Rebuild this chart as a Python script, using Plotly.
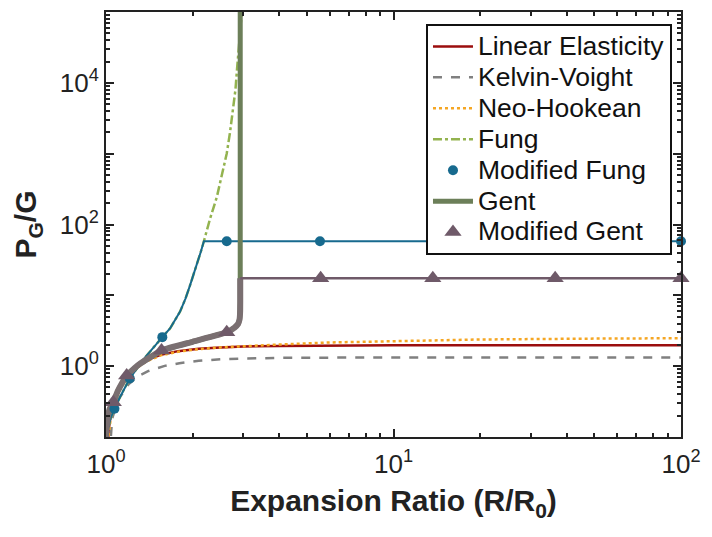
import plotly.graph_objects as go

# ---------------- data ----------------
lin_x = [1.0, 1.02, 1.05, 1.1, 1.15, 1.25, 1.37, 1.55, 1.78, 2.1, 2.5, 3.0, 4.0, 6.0, 10, 20, 50, 100]
lin_y = [0.01, 0.12, 0.28, 0.47, 0.63, 0.92, 1.2, 1.45, 1.63, 1.76, 1.84, 1.9, 1.93, 1.96, 1.97, 1.98, 1.98, 1.98]

kv_x = [1.0, 1.05, 1.1, 1.2, 1.3, 1.4, 1.6, 1.8, 2.1, 2.5, 3.0, 4.0, 6.0, 10, 30, 100]
kv_y = [0.01, 0.18, 0.33, 0.56, 0.73, 0.85, 1.01, 1.1, 1.19, 1.25, 1.28, 1.31, 1.32, 1.33, 1.33, 1.33]

nh_x = [1.0, 1.02, 1.05, 1.1, 1.15, 1.25, 1.37, 1.55, 1.78, 2.1, 2.5, 3.0, 4.0, 6.0, 10, 20, 50, 100]
nh_y = [0.01, 0.1, 0.26, 0.45, 0.6, 0.88, 1.15, 1.42, 1.6, 1.74, 1.84, 1.92, 2.02, 2.16, 2.27, 2.38, 2.45, 2.48]

fung_x = [1.0, 1.02, 1.04, 1.07, 1.12, 1.21, 1.35, 1.57, 1.67, 1.81, 1.89, 1.96, 2.03, 2.09, 2.14, 2.19,
          2.3, 2.43, 2.53, 2.63, 2.7, 2.77, 2.82, 2.86, 2.9, 2.92, 2.96, 3.0]
fung_y = [0.1, 0.14, 0.19, 0.25, 0.37, 0.67, 1.25, 2.57, 3.4, 5.9, 9.0, 13.8, 21.0, 31.0, 42.0, 58,
          120, 245, 500, 1005, 2000, 4110, 8000, 16800, 35000, 55600, 90000, 130000]

mfung_x = [1.0, 1.02, 1.04, 1.07, 1.12, 1.21, 1.35, 1.57, 1.67, 1.81, 1.89, 1.96, 2.03, 2.09, 2.14, 2.19, 100]
mfung_y = [0.1, 0.14, 0.19, 0.25, 0.37, 0.67, 1.25, 2.57, 3.4, 5.9, 9.0, 13.8, 21.0, 31.0, 42.0, 58, 58]
mfung_mx = [1.07, 1.21, 1.57, 2.63, 5.55, 13.7, 36.5, 100]
mfung_my = [0.25, 0.67, 2.57, 58, 58, 58, 58, 58]

gent_x = [1.0, 1.01, 1.03, 1.06, 1.1, 1.18, 1.3, 1.56, 2.0, 2.63, 2.8, 2.88, 2.915, 2.928, 2.93, 2.93, 2.93]
gent_y = [0.1, 0.17, 0.25, 0.31, 0.45, 0.74, 1.05, 1.67, 2.21, 3.0, 3.5, 3.95, 4.6, 6.0, 8.0, 17.4, 300000]

mgent_x = [1.0, 1.01, 1.03, 1.06, 1.1, 1.18, 1.3, 1.56, 2.0, 2.63, 2.8, 2.88, 2.915, 2.928, 2.93, 2.93]
mgent_y = [0.1, 0.17, 0.25, 0.31, 0.45, 0.74, 1.05, 1.67, 2.21, 3.0, 3.5, 3.95, 4.6, 6.0, 8.0, 17.4]
mgent_hx = [2.93, 100]
mgent_hy = [17.4, 17.4]
mgent_mx = [1.06, 1.18, 1.56, 2.63, 5.58, 13.7, 36.5, 100]
mgent_my = [0.31, 0.74, 1.67, 3.0, 17.4, 17.4, 17.4, 17.4]

series_names = ["Linear Elasticity", "Kelvin-Voight", "Neo-Hookean", "Fung",
                "Modified Fung", "Gent", "Modified Gent"]

x_tickvals = [1, 10, 100]
x_ticktext = ["10<sup>0</sup>", "10<sup>1</sup>", "10<sup>2</sup>"]
x_minor = [2, 3, 4, 5, 6, 7, 8, 9, 20, 30, 40, 50, 60, 70, 80, 90]
y_tickvals = [0.1, 1, 10, 100, 1000, 10000, 100000]
y_ticktext = ["", "10<sup>0</sup>", "", "10<sup>2</sup>", "", "10<sup>4</sup>", ""]
y_minor = [m * 10 ** e for e in range(-1, 5) for m in range(2, 10)]

# ---------------- colours / styles ----------------
C_LIN = "#9b0d0d"
C_KV = "#808080"
C_NH = "#f5a623"
C_FUNG = "#93b34f"
C_MFUNG = "#176a8e"
C_GENT = "#6c7f59"
C_MGENT_THICK = "#7a6f71"
C_MGENT = "#6f5a69"


def lname(s):
    return '<span style="font-size:26.5px">' + s + '</span>'


fig = go.Figure()
fig.add_trace(go.Scatter(x=lin_x, y=lin_y, mode="lines", name=lname(series_names[0]),
                         line=dict(color=C_LIN, width=2.5), legendrank=1))
fig.add_trace(go.Scatter(x=kv_x, y=kv_y, mode="lines", name=lname(series_names[1]),
                         line=dict(color=C_KV, width=2.5, dash="dash"), legendrank=2))
fig.add_trace(go.Scatter(x=nh_x, y=nh_y, mode="lines", name=lname(series_names[2]),
                         line=dict(color=C_NH, width=2.5, dash="dot"), legendrank=3))
fig.add_trace(go.Scatter(x=fung_x, y=fung_y, mode="lines", name=lname(series_names[3]),
                         line=dict(color=C_FUNG, width=2.5, dash="dashdot"), legendrank=4))
fig.add_trace(go.Scatter(x=mfung_x, y=mfung_y, mode="lines", showlegend=False,
                         line=dict(color=C_MFUNG, width=2), hoverinfo="skip"))
fig.add_trace(go.Scatter(x=gent_x, y=gent_y, mode="lines", name=lname(series_names[5]),
                         line=dict(color=C_GENT, width=5), legendrank=6))
fig.add_trace(go.Scatter(x=mgent_x, y=mgent_y, mode="lines", showlegend=False,
                         line=dict(color=C_MGENT_THICK, width=6, shape="spline", smoothing=0.4),
                         hoverinfo="skip"))
fig.add_trace(go.Scatter(x=mgent_hx, y=mgent_hy, mode="lines", showlegend=False,
                         line=dict(color=C_MGENT, width=2.5), hoverinfo="skip"))
fig.add_trace(go.Scatter(x=mfung_mx, y=mfung_my, mode="markers", name=lname(series_names[4]),
                         marker=dict(color=C_MFUNG, size=10, symbol="circle"),
                         cliponaxis=False, legendrank=5))
fig.add_trace(go.Scatter(x=mgent_mx, y=mgent_my, mode="markers", name=lname(series_names[6]),
                         marker=dict(color=C_MGENT, size=15, symbol="triangle-up"),
                         cliponaxis=False, legendrank=7))

axis_common = dict(
    type="log", showgrid=False, zeroline=False, showline=True, linecolor="#222222",
    linewidth=2, mirror="ticks", ticks="inside", ticklen=8, tickwidth=1.5,
    tickcolor="#222222", tickfont=dict(size=26, color="#222222"), automargin=False,
)

fig.update_xaxes(**axis_common, range=[0, 2], tickmode="array",
                 tickvals=x_tickvals, ticktext=x_ticktext, ticklabelstandoff=3,
                 minor=dict(tickmode="array", tickvals=x_minor, ticks="inside",
                            ticklen=4, tickwidth=1.5, tickcolor="#222222", showgrid=False),
                 title=dict(text="<b>Expansion Ratio (R/R<sub>0</sub>)</b>",
                            font=dict(size=30, color="#222222"), standoff=12))
fig.update_yaxes(**axis_common, range=[-1, 5], tickmode="array",
                 tickvals=y_tickvals, ticktext=y_ticktext,
                 minor=dict(tickmode="array", tickvals=y_minor, ticks="inside",
                            ticklen=4, tickwidth=1.5, tickcolor="#222222", showgrid=False),
                 title=dict(text="<b>P<sub>G</sub>/G</b>",
                            font=dict(size=30, color="#222222"), standoff=14))

fig.update_layout(
    width=704, height=529,
    margin=dict(l=98, r=31, t=4, b=100),
    paper_bgcolor="white", plot_bgcolor="white",
    font=dict(family="Arial, Liberation Sans, sans-serif", color="#111111"),
    legend=dict(x=0.5565, y=0.972, xanchor="left", yanchor="top",
                bgcolor="white", bordercolor="#111111", borderwidth=2,
                font=dict(size=21.5, color="#111111"), tracegroupgap=0,
                itemwidth=40),
    showlegend=True,
)

fig.write_html("out.html")
